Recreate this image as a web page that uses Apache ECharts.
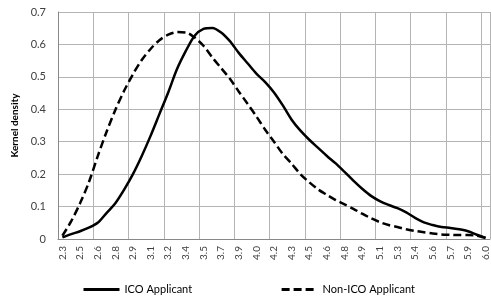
<!DOCTYPE html>
<html>
<head>
<meta charset="utf-8">
<script src="https://cdn.jsdelivr.net/npm/echarts@6/dist/echarts.min.js"></script>
<style>html,body{margin:0;padding:0;background:#fff}#c{width:491px;height:297px}</style>
</head>
<body>
<div id="c"></div>
<script>
// Tick labels shown under every second category point
var tickLabels = ['2.3','2.5','2.6','2.8','2.9','3.1','3.2','3.4','3.5','3.7','3.9','4.0','4.2',
  '4.3','4.5','4.6','4.8','4.9','5.1','5.3','5.4','5.6','5.7','5.9','6.0'];
// 49 evaluation points (labels on every other one)
var icoValues = [0.005,0.015,0.024,0.035,0.05,0.08,0.11,0.152,0.2,0.256,0.318,0.385,0.452,0.524,
  0.58,0.627,0.648,0.651,0.637,0.61,0.574,0.542,0.51,0.484,0.452,0.412,0.368,0.334,0.306,0.281,
  0.256,0.233,0.207,0.18,0.155,0.133,0.117,0.105,0.095,0.082,0.065,0.051,0.043,0.037,0.034,
  0.03,0.024,0.013,0.003];
var nonIcoValues = [0.01,0.055,0.11,0.175,0.255,0.33,0.398,0.457,0.508,0.552,0.586,0.613,0.63,
  0.638,0.637,0.621,0.596,0.56,0.527,0.494,0.455,0.417,0.378,0.337,0.3,0.262,0.232,0.2,0.175,
  0.153,0.136,0.12,0.107,0.093,0.078,0.064,0.052,0.043,0.037,0.03,0.025,0.021,0.017,0.014,
  0.013,0.012,0.012,0.01,0.004];
var seriesNames = ['ICO Applicant','Non-ICO Applicant'];

var categories = [];
for (var i = 0; i < icoValues.length; i++) {
  categories.push(i % 2 === 0 ? tickLabels[i / 2] : '');
}

var chart = echarts.init(document.getElementById('c'), null, {renderer: 'canvas'});
var FONT = 'Lato, "Open Sans", sans-serif';
chart.setOption({
  animation: false,
  backgroundColor: '#ffffff',
  grid: {left: 58, top: 12, right: 1, bottom: 58, containLabel: false},
  legend: {
    left: 77, top: 279,
    itemWidth: 36, itemHeight: 10, itemGap: 88,
    itemStyle: {opacity: 0},
    lineStyle: {width: 3},
    textStyle: {fontFamily: FONT, fontSize: 11, color: '#000'},
    data: seriesNames
  },
  xAxis: {
    type: 'category',
    data: categories,
    boundaryGap: true,
    axisLine: {show: true, lineStyle: {color: '#888', width: 1}},
    axisTick: {show: false},
    axisLabel: {interval: 0, rotate: 90, margin: 7, fontFamily: FONT, fontSize: 10, color: '#404040'},
    splitLine: {show: true, interval: 3, lineStyle: {color: '#b4b4b4', width: 1}}
  },
  yAxis: {
    type: 'value',
    min: 0, max: 0.7, interval: 0.1,
    name: 'Kernel density',
    nameLocation: 'middle',
    nameGap: 38,
    nameTextStyle: {fontFamily: FONT, fontSize: 10, fontWeight: 'bold', color: '#000'},
    axisLine: {show: true, lineStyle: {color: '#888', width: 1}},
    axisTick: {show: false},
    axisLabel: {margin: 12, fontFamily: FONT, fontSize: 11, color: '#404040'},
    splitLine: {show: true, lineStyle: {color: '#b4b4b4', width: 1}}
  },
  series: [
    {
      name: seriesNames[0], type: 'line', data: icoValues, smooth: 0.3,
      symbol: 'none', lineStyle: {color: '#000', width: 2.5, type: 'solid'},
      itemStyle: {color: '#000'}
    },
    {
      name: seriesNames[1], type: 'line', data: nonIcoValues, smooth: 0.3,
      symbol: 'none', lineStyle: {color: '#000', width: 2.5, type: [8, 4]},
      itemStyle: {color: '#000'}
    }
  ]
});
</script>
</body>
</html>
